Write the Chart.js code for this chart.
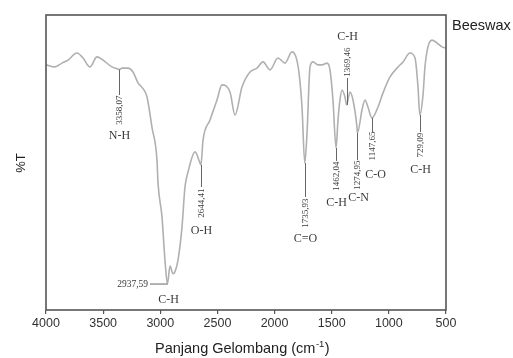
<!DOCTYPE html>
<html>
<head>
<meta charset="utf-8">
<script src="https://cdn.jsdelivr.net/npm/chart.js@4/dist/chart.umd.min.js"></script>
<style>
html,body{margin:0;padding:0;background:#fff;}
#c{display:block;}
</style>
</head>
<body>
<canvas id="c" width="513" height="358"></canvas>
<script>
// ---- data ----
const wavenumbers = [4000,3921,3860,3808,3729,3676,3615,3554,3501,3423,3370,3358.07,3335,3283,3239,3195,3143,3116,3073,3029,3020,2985,2959,2937.59,2915,2889,2871,2845,2810,2784,2757,2696,2652,2644.41,2626,2565,2504,2460,2390,2346,2285,2215,2154,2101,2040,1970,1909,1848,1813,1786,1760,1735.93,1716,1690,1664,1620,1585,1541,1515,1489,1462.04,1445,1428,1410,1384,1369.46,1340,1314,1279,1274.95,1235,1209,1183,1147.65,1095,1051,990,929,876,815,771,745,729.09,701,684,658,622,579,535,500];
const transmittance = [83.1,82.4,83.7,84.7,87.1,85.4,82.4,85.8,84.7,82.4,81.7,81.5,82.0,82.0,80.7,77.0,74.6,72.2,62.0,50.8,43.1,31.5,16.9,8.8,14.9,12.3,13.0,16.9,28.1,41.7,46.8,53.6,49.8,49.2,57.6,64.4,71.2,76.3,73.9,66.1,75.6,80.7,82.0,84.1,81.4,85.4,83.7,87.5,85.8,80.3,68.8,49.8,60.0,82.4,84.1,83.1,83.1,83.7,81.4,71.2,54.9,64.4,71.2,74.6,72.2,69.5,73.9,71.2,62.0,60.0,67.8,71.2,68.8,65.1,68.8,73.6,79.0,82.0,84.1,87.1,85.4,75.6,66.1,72.9,82.4,89.2,91.5,90.5,89.2,88.8];
const peakWavenumbers = [3358.07,2937.59,2644.41,1735.93,1462.04,1369.46,1274.95,1147.65,729.09];
const peakNumberLabels = ['3358,07','2937,59','2644,41','1735,93','1462,04','1369,46','1274,95','1147,65','729,09'];
const bondLabels = ['N-H','C-H','O-H','C=O','C-H','C-H','C-N','C-O','C-H'];
const xTicks = [4000,3500,3000,2500,2000,1500,1000,500];
const seriesName = 'Beeswax';
const xTitle = 'Panjang Gelombang (cm';
const xTitleSup = '-1';
const yTitle = '%T';

// ---- label layout (pixel positions only) ----
const labelLayout = [
  {dir:'down', lineEnd:95,  numMid:110, bondDx:0, bondY:136},
  {dir:'left', lineEnd:150, numRight:148, bondDx:1, bondY:300},
  {dir:'down', lineEnd:187, numMid:203, bondDx:0, bondY:231},
  {dir:'down', lineEnd:197, numMid:213, bondDx:0, bondY:239},
  {dir:'down', lineEnd:161, numMid:176, bondDx:0, bondY:203},
  {dir:'up',   lineEnd:78,  numMid:62,  bondDx:0, bondY:37},
  {dir:'down', lineEnd:160, numMid:175, bondDx:1, bondY:198},
  {dir:'down', lineEnd:132, numMid:146, bondDx:3, bondY:175},
  {dir:'down', lineEnd:132, numMid:145, bondDx:0, bondY:170}
];

const points = wavenumbers.map((w,i)=>({x:w, y:transmittance[i]}));

const TEXT = '#3a3a3a';
const SERIF = '"Liberation Serif", "Times New Roman", serif';
const SANS = '"Liberation Sans", Arial, sans-serif';

const decor = {
  id:'decor',
  afterDatasetsDraw(chart){
    const ctx = chart.ctx, a = chart.chartArea;
    const xs = chart.scales.x, ys = chart.scales.y;
    ctx.save();
    // frame
    ctx.strokeStyle = '#555';
    ctx.lineWidth = 1.6;
    ctx.strokeRect(a.left, a.top, a.right - a.left, a.bottom - a.top);
    // annotations
    ctx.fillStyle = TEXT;
    ctx.strokeStyle = '#666';
    ctx.lineWidth = 1;
    peakWavenumbers.forEach((w,i)=>{
      const L = labelLayout[i];
      const idx = wavenumbers.indexOf(w);
      const px = Math.round(xs.getPixelForValue(w)) + 0.5;
      const py = ys.getPixelForValue(transmittance[idx]);
      ctx.beginPath();
      if (L.dir === 'left') {
        ctx.moveTo(px, py); ctx.lineTo(L.lineEnd, py);
      } else {
        ctx.moveTo(px, py); ctx.lineTo(px, L.lineEnd);
      }
      ctx.stroke();
      ctx.font = '9px ' + SERIF;
      if (L.dir === 'left') {
        ctx.textAlign = 'right'; ctx.textBaseline = 'middle';
        ctx.font = '9.5px ' + SERIF;
        ctx.fillText(peakNumberLabels[i], L.numRight, py);
      } else {
        ctx.save();
        ctx.translate(px, L.numMid);
        ctx.rotate(-Math.PI/2);
        ctx.textAlign = 'center'; ctx.textBaseline = 'middle';
        ctx.fillText(peakNumberLabels[i], 0, 0);
        ctx.restore();
      }
      ctx.font = '12px ' + SERIF;
      ctx.textAlign = 'center'; ctx.textBaseline = 'middle';
      ctx.fillText(bondLabels[i], px + L.bondDx, L.bondY);
    });
    // series name
    ctx.font = '14.5px ' + SANS;
    ctx.fillStyle = '#222';
    ctx.textAlign = 'left'; ctx.textBaseline = 'middle';
    ctx.fillText(seriesName, a.right + 6, 26);
    // y title
    ctx.save();
    ctx.translate(21, 163);
    ctx.rotate(-Math.PI/2);
    ctx.font = '13px ' + SANS;
    ctx.textAlign = 'center'; ctx.textBaseline = 'middle';
    ctx.fillStyle = '#222';
    ctx.fillText(yTitle, 0, 0);
    ctx.restore();
    // x title with superscript
    ctx.font = '14.5px ' + SANS;
    const w1 = ctx.measureText(xTitle).width;
    ctx.font = '9.5px ' + SANS;
    const w2 = ctx.measureText(xTitleSup).width;
    const x0 = 155;
    ctx.fillStyle = '#222';
    ctx.textAlign = 'left'; ctx.textBaseline = 'middle';
    ctx.font = '14.5px ' + SANS;
    ctx.fillText(xTitle, x0, 349);
    ctx.font = '9.5px ' + SANS;
    ctx.fillText(xTitleSup, x0 + w1 + 0.5, 344);
    ctx.font = '14.5px ' + SANS;
    ctx.fillText(')', x0 + w1 + w2 + 1, 349);
    ctx.restore();
  }
};

new Chart(document.getElementById('c'), {
  type: 'line',
  data: {
    datasets: [{
      label: seriesName,
      data: points,
      borderColor: '#b0b0b0',
      borderWidth: 1.6,
      pointRadius: 0,
      fill: false,
      cubicInterpolationMode: 'monotone'
    }]
  },
  options: {
    responsive: false,
    devicePixelRatio: 1,
    animation: false,
    layout: { padding: { top: 15, right: 67, left: 0, bottom: 0 } },
    plugins: { legend: { display: false }, tooltip: { enabled: false } },
    scales: {
      x: {
        type: 'linear',
        reverse: true,
        min: 500, max: 4000,
        afterFit(s){ s.height = 48; },
        afterBuildTicks(s){ s.ticks = xTicks.map(v=>({value:v})); },
        grid: { display: true, drawOnChartArea: false, drawTicks: true, tickLength: 4, color: '#555', lineWidth: 1.2 },
        border: { display: false },
        ticks: { color: '#333', font: { family: SANS, size: 12.5 }, padding: 2, maxRotation: 0, autoSkip: false,
                 callback: (v)=>String(v) }
      },
      y: {
        min: 0, max: 100,
        afterFit(s){ s.width = 46; },
        grid: { display: false },
        border: { display: false },
        ticks: { display: false }
      }
    }
  },
  plugins: [decor]
});
</script>
</body>
</html>
